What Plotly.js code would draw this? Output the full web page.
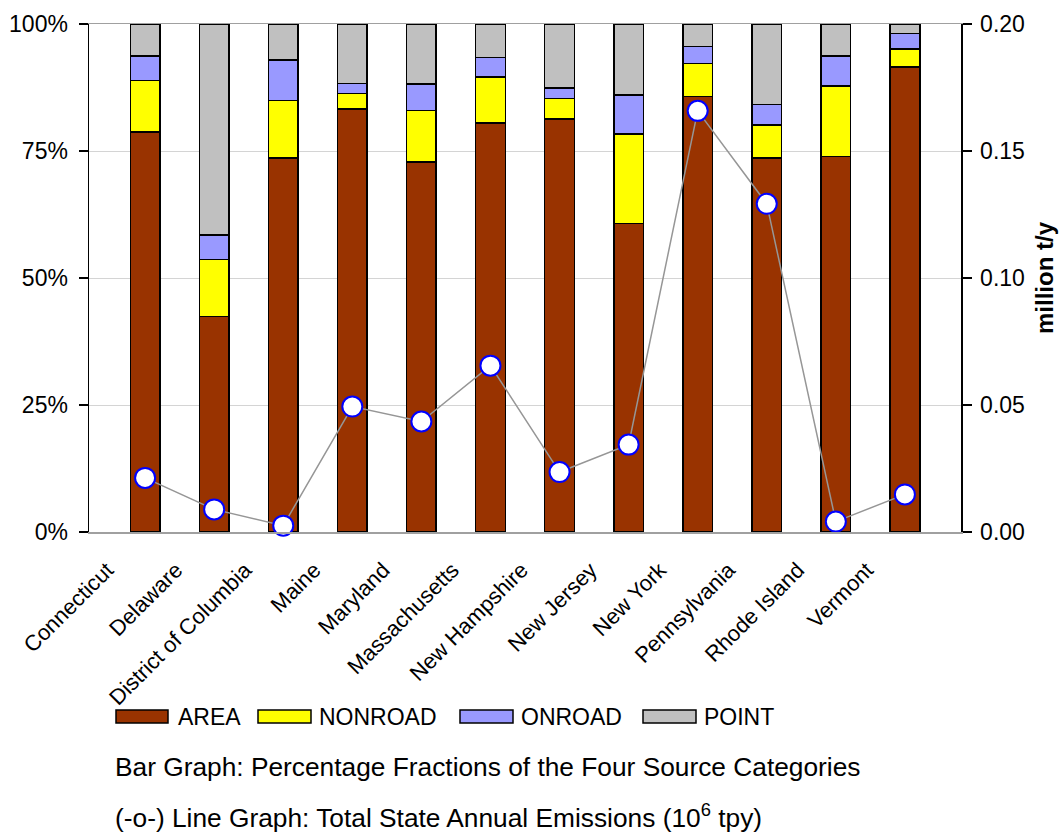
<!DOCTYPE html>
<html>
<head>
<meta charset="utf-8">
<script src="https://cdn.plot.ly/plotly-3.0.1.min.js"></script>
<style>
  html, body { margin: 0; padding: 0; background: #ffffff; }
  #chart { width: 1060px; height: 832px; }
</style>
</head>
<body>
<div id="chart"></div>
<script>
// ---- data ----
const states = ["Connecticut", "Delaware", "District of Columbia", "Maine", "Maryland", "Massachusetts",
                "New Hampshire", "New Jersey", "New York", "Pennsylvania", "Rhode Island", "Vermont"];
const areaPct    = [78.7, 42.4, 73.6, 83.3, 72.8, 80.5, 81.3, 60.7, 85.7, 73.6, 73.9, 91.5];
const nonroadPct = [10.2, 11.2, 11.3,  3.0, 10.2,  9.1,  4.0, 17.6,  6.5,  6.5, 13.9,  3.6];
const onroadPct  = [ 4.8,  4.9,  8.0,  2.0,  5.2,  3.8,  2.1,  7.7,  3.4,  4.1,  5.9,  3.0];
const pointPct   = [ 6.3, 41.5,  7.1, 11.7, 11.8,  6.6, 12.6, 14.0,  4.4, 15.8,  6.3,  1.9];
const totalEmissions = [0.0213, 0.0089, 0.0025, 0.0494, 0.0435, 0.0655,
                        0.0236, 0.0344, 0.1658, 0.1292, 0.0041, 0.0148];
const seriesNames = ["AREA", "NONROAD", "ONROAD", "POINT"];
const leftTicks = [0, 25, 50, 75, 100];
const rightTicks = [0, 0.05, 0.10, 0.15, 0.20];
const captionBar = "Bar Graph: Percentage Fractions of the Four Source Categories";
const captionLine = "(-o-) Line Graph: Total State Annual Emissions (10<sup>6</sup> tpy)";
const rightTitle = "million t/y";

// ---- styling ----
const colors = ["#993300", "#FFFF00", "#9999FF", "#C0C0C0"];
const FONT = "Liberation Sans, Arial, sans-serif";
const W = 1060, H = 832;
const L = 89, R = 961, T = 24, B = 532;
const px = x => (x - L) / (R - L);
const py = y => (B - y) / (B - T);

const seriesVals = [areaPct, nonroadPct, onroadPct, pointPct];
const traces = seriesVals.map((vals, i) => ({
  type: "bar",
  name: seriesNames[i],
  x: states,
  y: vals,
  marker: { color: colors[i], line: { color: "#000000", width: 1.5 } },
  hoverinfo: "x+y+name"
}));

traces.push({
  type: "scatter",
  mode: "lines+markers",
  name: "Total",
  x: states,
  y: totalEmissions,
  yaxis: "y2",
  line: { color: "#969696", width: 1.5 },
  marker: { symbol: "circle", size: 20, color: "#ffffff", line: { color: "#0000FF", width: 2 } },
  cliponaxis: false
});

// custom legend (wide swatches)
const legendBoxes = [[116, 168, 176], [258, 311, 317], [460, 513, 519], [643, 696, 702]];
const shapes = [];
const annotations = [];
seriesNames.forEach((n, i) => {
  const [x0, x1, tx] = legendBoxes[i];
  shapes.push({
    type: "rect", xref: "paper", yref: "paper",
    x0: px(x0), x1: px(x1), y0: py(723), y1: py(710),
    fillcolor: colors[i], line: { color: "#000000", width: 1.5 }
  });
  annotations.push({
    xref: "paper", yref: "paper", x: px(tx), y: py(717),
    xanchor: "left", yanchor: "middle", showarrow: false,
    text: n, font: { family: FONT, size: 23, color: "#000000" }
  });
});
annotations.push({
  xref: "paper", yref: "paper", x: px(113), y: py(767),
  xanchor: "left", yanchor: "middle", showarrow: false,
  text: captionBar, font: { family: FONT, size: 26.3, color: "#000000" }
});
annotations.push({
  xref: "paper", yref: "paper", x: px(113), y: py(816),
  xanchor: "left", yanchor: "middle", showarrow: false,
  text: captionLine, font: { family: FONT, size: 26.3, color: "#000000" }
});

const layout = {
  width: W, height: H,
  margin: { l: L, r: W - R, t: T, b: H - B, pad: 0 },
  paper_bgcolor: "#ffffff",
  plot_bgcolor: "#ffffff",
  barmode: "stack",
  bargap: 0.57,
  showlegend: false,
  font: { family: FONT, color: "#000000" },
  xaxis: {
    type: "category",
    tickangle: -45,
    tickfont: { family: FONT, size: 22, color: "#000000" },
    ticklabelshift: -38,
    ticklabelstandoff: 15,
    showline: true, linecolor: "#a0a0a0", linewidth: 1.5,
    mirror: true,
    ticks: "", showgrid: false,
    automargin: false
  },
  yaxis: {
    range: [0, 100],
    tickvals: leftTicks,
    ticktext: leftTicks.map(v => v + "%"),
    tickfont: { family: FONT, size: 23, color: "#000000" },
    ticklabelstandoff: 6,
    showline: true, linecolor: "#000000", linewidth: 1.5,
    ticks: "outside", ticklen: 9, tickcolor: "#000000", tickwidth: 1.5,
    showgrid: true, gridcolor: "#d4d4d4", gridwidth: 1,
    zeroline: false,
    automargin: false
  },
  yaxis2: {
    overlaying: "y",
    side: "right",
    range: [0, 0.20],
    tickvals: rightTicks,
    ticktext: rightTicks.map(v => v.toFixed(2)),
    tickfont: { family: FONT, size: 23, color: "#000000" },
    ticklabelstandoff: 4,
    showline: true, linecolor: "#000000", linewidth: 1.5,
    ticks: "outside", ticklen: 9, tickcolor: "#000000", tickwidth: 1.5,
    showgrid: false, zeroline: false,
    title: { text: "<b>" + rightTitle + "</b>", font: { family: FONT, size: 24, color: "#000000" }, standoff: 12 },
    automargin: false
  },
  shapes: shapes,
  annotations: annotations
};

Plotly.newPlot("chart", traces, layout, { displayModeBar: false, staticPlot: true });
</script>
</body>
</html>
